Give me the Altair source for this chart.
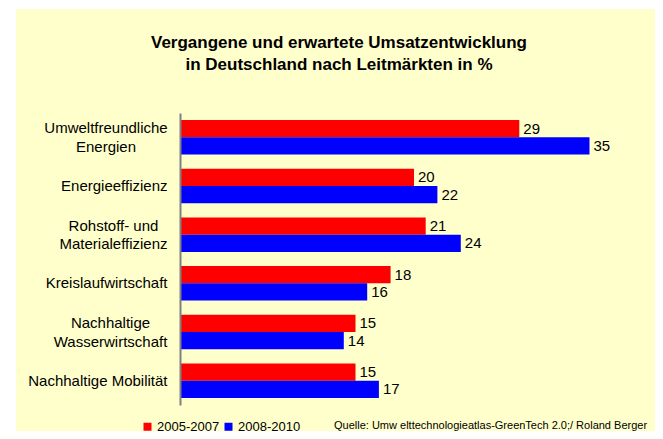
import altair as alt
import pandas as pd

categories = [
    "Umweltfreundliche\nEnergien",
    "Energieeffizienz",
    "Rohstoff- und\nMaterialeffizienz",
    "Kreislaufwirtschaft",
    "Nachhaltige\nWasserwirtschaft",
    "Nachhaltige Mobilität",
]
series_names = ["2005-2007", "2008-2010"]
values_2005_2007 = [29, 20, 21, 18, 15, 15]
values_2008_2010 = [35, 22, 24, 16, 14, 17]
series_colors = ["#FF0000", "#0000FF"]

title_lines = [
    "Vergangene und erwartete Umsatzentwicklung",
    "in Deutschland nach Leitmärkten in %",
]
source_text = "Quelle: Umw elttechnologieatlas-GreenTech 2.0;/ Roland Berger"

rows = []
for cat, a, b in zip(categories, values_2005_2007, values_2008_2010):
    rows.append({"category": cat, "series": series_names[0], "value": a})
    rows.append({"category": cat, "series": series_names[1], "value": b})
df = pd.DataFrame(rows)

FONT = "Liberation Sans"
MULTI = "indexof(datum.value, '\\n') >= 0"

y_axis = alt.Axis(
    title=None,
    ticks=False,
    tickSize=0,
    domain=True,
    domainColor="#808080",
    domainWidth=2,
    labelFont=FONT,
    labelFontSize=15,
    labelColor="#000000",
    labelLineHeight=18.5,
    labelExpr="split(datum.label, '\\n')",
    labelBaseline="middle",
    labelAlign={"condition": {"test": MULTI, "value": "center"}, "value": "right"},
    labelOffset={"condition": {"test": MULTI, "value": -9}, "value": 0},
    labelPadding={
        "condition": [
            {"test": "indexof(datum.value, 'Umwelt') >= 0", "value": 74.5},
            {"test": "indexof(datum.value, 'Rohstoff') >= 0", "value": 67},
            {"test": "indexof(datum.value, 'Wasser') >= 0", "value": 70},
        ],
        "value": 13,
    },
    labelLimit=300,
    zindex=1,
)

base = alt.Chart(df).encode(
    y=alt.Y(
        "category:N",
        sort=categories,
        scale=alt.Scale(paddingInner=0.29, paddingOuter=0.145),
        axis=y_axis,
    ),
    yOffset=alt.YOffset(
        "series:N",
        sort=series_names,
        scale=alt.Scale(paddingInner=0, paddingOuter=0),
    ),
)

bars = base.mark_bar().encode(
    x=alt.X("value:Q", scale=alt.Scale(domain=[0, 40]), axis=None),
    color=alt.Color(
        "series:N",
        sort=series_names,
        scale=alt.Scale(domain=series_names, range=series_colors),
        legend=alt.Legend(
            title=None,
            orient="none",
            legendX=-39,
            legendY=307,
            direction="horizontal",
            symbolType="square",
            symbolSize=64,
            symbolStrokeWidth=0,
            labelFont=FONT,
            labelFontSize=13,
            labelColor="#000000",
            labelOffset=3,
            columnPadding=2,
            padding=0,
        ),
    ),
)

value_labels = base.mark_text(
    align="left", baseline="middle", dx=4, font=FONT, fontSize=15, color="#000000"
).encode(x=alt.X("value:Q"), text=alt.Text("value:Q"))

one = pd.DataFrame({"k": [0]})

background = alt.Chart(one).mark_rect(color="#FFFFCC").encode(
    x=alt.value(-164), x2=alt.value(475), y=alt.value(-104), y2=alt.value(318)
)

title = alt.Chart(one).mark_text(
    text=title_lines,
    align="center",
    baseline="middle",
    font=FONT,
    fontSize=17,
    fontWeight="bold",
    lineHeight=22,
    color="#000000",
).encode(x=alt.value(159), y=alt.value(-70))

source = alt.Chart(one).mark_text(
    text=source_text,
    align="left",
    baseline="middle",
    font=FONT,
    fontSize=11,
    color="#000000",
).encode(x=alt.value(154), y=alt.value(313))

chart = (
    alt.layer(background, bars, value_labels, title, source)
    .properties(
        width=468,
        height=292,
        background="white",
        padding={"left": 8, "top": 1, "right": 0, "bottom": 0},
    )
    .configure_view(stroke=None)
)

chart.save("out.html", embed_options={"renderer": "svg", "actions": False})
